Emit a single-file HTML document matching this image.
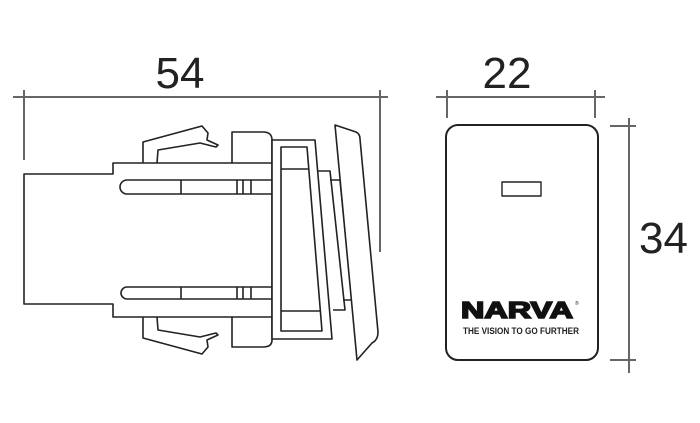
<!DOCTYPE html>
<html><head><style>body{margin:0;background:#fff}svg{display:block}</style></head><body>
<svg width="700" height="423" viewBox="0 0 700 423" xmlns="http://www.w3.org/2000/svg">
<g fill="none" stroke="#222" stroke-width="1.6" stroke-linejoin="round">
<g stroke="#666" stroke-width="2">
<line x1="13" y1="97" x2="388" y2="97"/>
<line x1="24" y1="90" x2="24" y2="160"/>
<line x1="380" y1="90" x2="380" y2="252"/>
<line x1="436" y1="97" x2="605" y2="97"/>
<line x1="447" y1="90" x2="447" y2="118"/>
<line x1="595" y1="90" x2="595" y2="118"/>
<line x1="629" y1="118" x2="629" y2="373"/>
<line x1="610" y1="126" x2="636" y2="126"/>
<line x1="610" y1="360" x2="636" y2="360"/>
</g>
<path d="M113 174 H24 V304 H113 V317 H272 V163 H113 Z" fill="#fff"/>
<path d="M127 180 H277 V194 H127 A7 7 0 0 1 127 180 Z"/>
<path d="M127 287 H277 V299 H127 A6 6 0 0 1 127 287 Z"/>
<line x1="181" y1="180" x2="181" y2="194"/><line x1="237" y1="180" x2="237" y2="194"/><line x1="243" y1="180" x2="243" y2="194"/><line x1="251" y1="180" x2="251" y2="194"/>
<line x1="181" y1="287" x2="181" y2="299"/><line x1="237" y1="287" x2="237" y2="299"/><line x1="243" y1="287" x2="243" y2="299"/><line x1="251" y1="287" x2="251" y2="299"/>
<path d="M143 163 V142 L202 126 L208 133 L207 140 L218 145 L216 147 L200 143 L158 150 L157 163"/>
<path d="M143 317 V338 L202 354 L208 347 L207 340 L218 335 L216 333 L200 337 L158 330 L157 317"/>
<path d="M232 163 V132 H263 Q272 132 272 140 V163"/>
<path d="M232 317 V347 H263 Q272 347 272 340 V317"/>
<path d="M272 140 H315 L332 339 H272 Z" fill="#fff"/>
<path d="M281 147 H307 L322 331 H281 Z"/>
<line x1="281" y1="169" x2="308" y2="169"/>
<line x1="281" y1="311" x2="320" y2="311"/>
<path d="M318 171 H330 L345 310 H333"/>
<path d="M330 180 H340 L352 300 H343"/>
<path d="M335 125 L356 132 Q360 134 360 139 L378 332 Q378 340 372 343 L357 360 L335 125 Z" fill="#fff"/>
<rect x="446" y="125" width="152" height="235" rx="12" stroke-width="2"/>
<rect x="502" y="182" width="39" height="14" stroke-width="1.4"/>
</g>
<g font-family="Liberation Sans, sans-serif" fill="#222">
<text x="180" y="88" font-size="44" text-anchor="middle">54</text>
<text x="507" y="88" font-size="44" text-anchor="middle">22</text>
<text x="639" y="253" font-size="44">34</text>
<text x="461" y="318" font-size="23" font-weight="bold" stroke="#111" stroke-width="1.6" fill="#111" textLength="112" lengthAdjust="spacingAndGlyphs">NARVA</text>
<text x="575" y="305" font-size="5">®</text>
<text x="463" y="334" font-size="9.5" font-weight="bold" textLength="116" lengthAdjust="spacingAndGlyphs">THE VISION TO GO FURTHER</text>
</g>
</svg>
</body></html>
